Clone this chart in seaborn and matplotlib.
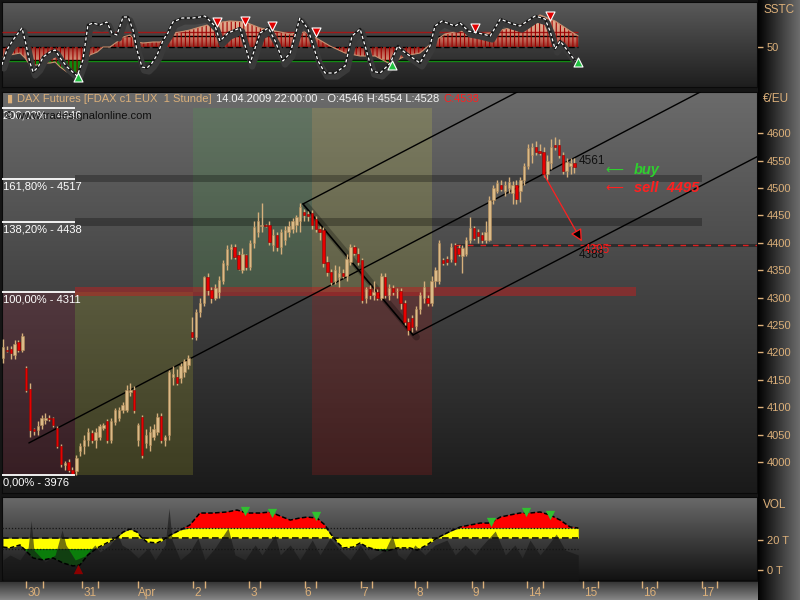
import numpy as np
import matplotlib
matplotlib.use("Agg")
import matplotlib.pyplot as plt
import matplotlib.patheffects as pe
import seaborn as sns
from matplotlib.colors import LinearSegmentedColormap, to_rgb

# hourly FDAX candles, 27.03. - 14.04.2009 (bar index = position on the time axis)
opens = [4190, 4205, 4207, 4195, 4218, 4205, 4172, 4133, 4060, 4058,
         4068, 4076, 4080, 4080, 4062, 4029, 3995, 4000, 3985, 3983,
         4020, 4030, 4040, 4053, 4040, 4046, 4062, 4075, 4040, 4073,
         4080, 4095, 4095, 4128, 4131, 4040, 4082, 4035, 4031, 4045,
         4055, 4084, 4040, 4049, 4155, 4155, 4153, 4165, 4177, 4237,
         4228, 4274, 4290, 4337, 4314, 4300, 4310, 4330, 4360, 4388,
         4392, 4378, 4350, 4378, 4355, 4400, 4420, 4430, 4432, 4432,
         4395, 4414, 4392, 4405, 4420, 4425, 4432, 4440, 4456, 4452,
         4454, 4443, 4425, 4423, 4365, 4347, 4330, 4338, 4345, 4340,
         4365, 4392, 4380, 4368, 4300, 4315, 4305, 4310, 4300, 4337,
         4305, 4318, 4312, 4312, 4290, 4255, 4262, 4248, 4280, 4300,
         4300, 4290, 4330, 4330, 4368, 4370, 4370, 4396, 4390, 4375,
         4380, 4405, 4427, 4420, 4414, 4405, 4405, 4478, 4495, 4505,
         4495, 4500, 4490, 4505, 4495, 4515, 4540, 4560, 4575, 4568,
         4565, 4525, 4545, 4578, 4578, 4560, 4530, 4540, 4546]
highs = [4225, 4212, 4212, 4222, 4222, 4235, 4175, 4145, 4062, 4075,
         4085, 4090, 4085, 4082, 4065, 4032, 4002, 4005, 3990, 4012,
         4035, 4050, 4062, 4058, 4062, 4070, 4072, 4078, 4080, 4098,
         4100, 4110, 4140, 4145, 4138, 4072, 4085, 4060, 4065, 4070,
         4090, 4090, 4050, 4168, 4175, 4170, 4180, 4188, 4195, 4265,
         4280, 4300, 4340, 4345, 4320, 4325, 4340, 4368, 4395, 4398,
         4398, 4385, 4390, 4380, 4405, 4440, 4456, 4473, 4435, 4440,
         4425, 4420, 4425, 4430, 4440, 4445, 4450, 4473, 4462, 4458,
         4460, 4448, 4430, 4428, 4375, 4352, 4360, 4358, 4352, 4380,
         4398, 4396, 4390, 4372, 4320, 4322, 4330, 4315, 4345, 4345,
         4325, 4322, 4318, 4318, 4295, 4262, 4268, 4285, 4310, 4330,
         4305, 4340, 4355, 4405, 4372, 4375, 4400, 4400, 4395, 4395,
         4410, 4447, 4430, 4425, 4420, 4440, 4485, 4505, 4515, 4515,
         4512, 4520, 4512, 4515, 4520, 4545, 4580, 4582, 4585, 4580,
         4575, 4560, 4590, 4593, 4590, 4565, 4555, 4555, 4554]
lows = [4180, 4200, 4188, 4188, 4200, 4200, 4128, 4045, 4050, 4050,
        4060, 4070, 4075, 4064, 4025, 3990, 3985, 3982, 3976, 3976,
        4010, 4015, 4030, 4035, 4025, 4040, 4058, 4035, 4035, 4068,
        4075, 4090, 4092, 4120, 4090, 4030, 4008, 4025, 4020, 4040,
        4050, 4035, 4030, 4040, 4140, 4140, 4145, 4155, 4170, 4225,
        4222, 4265, 4285, 4305, 4290, 4295, 4300, 4325, 4350, 4370,
        4370, 4350, 4345, 4350, 4350, 4390, 4410, 4420, 4428, 4395,
        4385, 4385, 4380, 4395, 4410, 4418, 4420, 4420, 4440, 4440,
        4425, 4420, 4405, 4355, 4340, 4322, 4325, 4320, 4335, 4330,
        4360, 4378, 4360, 4290, 4290, 4298, 4295, 4295, 4295, 4300,
        4295, 4305, 4300, 4280, 4250, 4232, 4238, 4240, 4270, 4290,
        4285, 4285, 4320, 4325, 4360, 4360, 4365, 4360, 4375, 4345,
        4375, 4400, 4405, 4400, 4400, 4400, 4403, 4470, 4490, 4495,
        4485, 4490, 4470, 4470, 4475, 4505, 4535, 4545, 4560, 4560,
        4520, 4515, 4535, 4570, 4555, 4525, 4520, 4525, 4528]
closes = [4210, 4202, 4198, 4215, 4205, 4230, 4131, 4058, 4056, 4066,
          4080, 4080, 4078, 4068, 4029, 3996, 3999, 3985, 3978, 4007,
          4030, 4040, 4055, 4040, 4055, 4066, 4068, 4040, 4075, 4095,
          4095, 4104, 4131, 4131, 4095, 4068, 4013, 4050, 4055, 4060,
          4082, 4040, 4045, 4164, 4160, 4144, 4175, 4185, 4190, 4228,
          4274, 4290, 4337, 4314, 4299, 4318, 4332, 4363, 4388, 4392,
          4374, 4352, 4380, 4355, 4400, 4429, 4440, 4433, 4430, 4401,
          4415, 4392, 4420, 4423, 4430, 4440, 4447, 4465, 4450, 4448,
          4432, 4425, 4420, 4363, 4347, 4328, 4350, 4345, 4340, 4370,
          4392, 4381, 4365, 4296, 4315, 4305, 4310, 4300, 4340, 4305,
          4318, 4310, 4312, 4290, 4255, 4240, 4246, 4280, 4305, 4320,
          4290, 4330, 4350, 4400, 4363, 4365, 4392, 4365, 4380, 4390,
          4405, 4427, 4409, 4412, 4405, 4420, 4478, 4500, 4509, 4498,
          4505, 4510, 4505, 4480, 4515, 4540, 4572, 4575, 4566, 4564,
          4525, 4550, 4575, 4575, 4560, 4530, 4548, 4545, 4538]

# date axis (bar units)
day_labels = ['30', '31', 'Apr', '2', '3', '6', '7', '8', '9', '14', '15', '16', '17']
day_pos = [8.0, 22.5, 37.3, 50.5, 65.0, 79.0, 93.8, 108.0, 122.5, 137.6, 152.1, 167.4, 182.4]
session_ticks = [6.0, 10.4, 20.5, 24.6, 35.0, 49.2, 52.3, 63.7, 66.6, 78.2, 81.1, 92.7,
                 95.6, 106.7, 109.8, 121.5, 124.4, 135.8, 139.9, 150.3, 154.1, 165.5,
                 169.4, 181.1, 185.0]

# fibonacci levels
fib_pct = ['0,00%', '100,00%', '138,20%', '161,80%', '200,00%']
fib_lvl = [3976, 4311, 4438, 4517, 4646]

# SSTC oscillator: fast (white dashed) and slow (filled)
fast_x = [-0.3, 1.0, 2.6, 4.9, 5.7, 7.0, 7.8, 9.1, 10.4, 12.2,
          13.5, 14.8, 16.6, 19.2, 20.7, 22.0, 23.3, 25.1, 26.9, 28.2,
          29.5, 31.1, 32.4, 33.7, 34.7, 36.0, 37.3, 38.6, 39.9, 41.5,
          42.7, 44.0, 46.4, 49.2, 51.0, 52.3, 54.9, 56.2, 58.3, 61.4,
          64.0, 66.6, 68.7, 70.5, 72.5, 74.4, 76.9, 79.0, 81.6, 83.4,
          86.0, 88.6, 90.4, 92.5, 93.8, 95.6, 97.7, 100.3, 102.3, 103.6,
          105.4, 108.0, 110.6, 111.9, 113.7, 117.1, 118.4, 120.5, 123.1, 126.2,
          128.8, 131.3, 133.9, 137.8, 140.4, 141.7, 143.0, 144.3, 145.9, 148.2]
fast_v = [14, 44, 64, 88, 64, 18, 0, 10, 30, 40,
          44, 28, 10, -8, 24, 94, 98, 94, 100, 78,
          74, 110, 110, 84, 44, 10, 8, 18, 34, 64,
          78, 100, 108, 108, 110, 112, 92, 62, 78, 88,
          18, 78, 88, 62, 22, 38, 108, 86, 22, -2,
          -2, 12, 72, 86, 52, 2, -2, 18, 52, 42,
          32, 18, 52, 92, 102, 92, 98, 82, 78, 72,
          106, 98, 92, 112, 106, 82, 46, 62, 46, 22]
slow_x = [0, 1.8, 4.4, 5.7, 7.0, 8.8, 10.4, 12.2, 13.5, 14.8,
          16.6, 18.7, 19.9, 21.2, 22.5, 24.4, 25.9, 27.7, 29.5, 31.1,
          32.9, 34.7, 36.3, 38.9, 40.7, 42.5, 44.0, 45.9, 48.4, 51.0,
          54.9, 58.8, 62.7, 66.6, 70.5, 74.4, 78.2, 81.6, 84.7, 88.6,
          92.5, 96.4, 100.3, 104.1, 108.0, 111.1, 114.5, 118.4, 122.3, 126.2,
          130.1, 133.9, 139.1, 143.0, 146.9, 149.0]
slow_v = [30, 34, 38, 28, 14, 14, 18, 18, 20, 10,
          0, -8, 0, 20, 34, 40, 50, 50, 60, 70,
          74, 60, 58, 60, 60, 68, 78, 80, 84, 90,
          98, 102, 100, 88, 82, 76, 80, 66, 52, 38,
          32, 32, 16, 32, 38, 58, 76, 82, 76, 78,
          86, 94, 114, 102, 82, 72]
sstc_sell_x = [55.4, 62.7, 69.7, 81.1, 122.3, 141.7]
sstc_sell_v = [100, 102, 92, 80, 88, 112]
sstc_buy_x = [19.4, 100.8, 149.0]
sstc_buy_v = [-10, 14, 20]

# volume (thousands) and its average
ma_x = [0, 1.8, 4.4, 5.7, 7.8, 10.4, 13.0, 15.5, 18.1, 19.9,
        22.0, 24.4, 26.9, 29.0, 31.1, 32.9, 34.7, 36.0, 37.3, 39.9,
        41.5, 43.3, 45.9, 48.4, 51.0, 54.4, 58.0, 60.6, 63.2, 66.6,
        69.2, 71.8, 74.4, 76.9, 78.8, 81.3, 83.4, 84.7, 86.5, 88.1,
        90.7, 92.5, 94.3, 96.9, 99.5, 102.1, 105.4, 107.3, 109.8, 112.4,
        115.0, 116.6, 118.4, 121.0, 123.6, 126.2, 128.8, 131.3, 133.9, 136.5,
        139.1, 141.7, 144.3, 146.9, 149.0]
ma_v = [15.3, 14.7, 16.7, 13.3, 8.0, 6.7, 8.0, 4.7, 2.7, 3.3,
        10.0, 14.7, 18.0, 20.7, 25.3, 27.3, 25.3, 21.3, 18.7, 18.0,
        20.0, 23.3, 26.7, 30.0, 38.0, 38.0, 38.7, 40.0, 38.0, 38.0,
        38.7, 36.0, 33.3, 34.7, 35.3, 34.7, 30.0, 24.7, 18.7, 14.7,
        15.3, 18.0, 15.3, 13.3, 12.7, 14.7, 14.7, 13.3, 16.7, 21.3,
        24.7, 26.7, 28.7, 30.0, 31.3, 31.3, 35.3, 36.7, 38.0, 38.0,
        38.7, 36.7, 33.3, 28.7, 28.0]
vol_x = [0, 1.8, 4.4, 6.5, 7.3, 8.0, 10.9, 13.5, 15.3, 16.3,
         18.7, 21.2, 23.8, 25.1, 27.7, 29.8, 30.8, 32.9, 35.0, 37.6,
         39.4, 42.0, 43.0, 43.8, 45.9, 48.4, 50.5, 52.3, 54.9, 58.3,
         60.1, 62.7, 65.3, 67.1, 70.5, 71.8, 74.4, 76.9, 80.1, 82.1,
         84.7, 87.3, 89.9, 92.5, 95.1, 99.0, 100.8, 102.3, 104.1, 106.7,
         109.3, 111.9, 115.0, 117.1, 119.7, 122.3, 123.6, 127.5, 130.1, 132.6,
         134.5, 136.5, 139.1, 141.2, 143.3, 145.6, 149.0]
vol_v = [6.7, 10.0, 6.7, 14.7, 33.0, 13.3, 5.3, 10.0, 26.7, 16.7,
         6.7, 9.3, 16.7, 12.0, 16.7, 23.3, 16.7, 13.3, 8.0, 14.7,
         6.7, 16.7, 41.3, 20.0, 6.7, 12.0, 21.3, 6.7, 14.7, 28.0,
         10.0, 6.7, 16.7, 10.0, 23.3, 10.0, 16.7, 6.7, 20.0, 10.0,
         21.3, 13.3, 6.7, 16.7, 6.7, 13.3, 23.3, 10.0, 6.7, 16.7,
         10.0, 16.7, 20.0, 10.0, 16.7, 10.0, 14.7, 26.0, 10.0, 16.7,
         8.0, 20.0, 10.0, 16.7, 24.0, 13.3, 10.0]
vol_sig_x = [62.7, 69.7, 81.1, 126.4, 135.5, 141.7]
vol_sig_v = [39.3, 38.0, 36.0, 32.0, 38.7, 36.7]
vol_low_x = [19.4]
vol_low_v = [0.7]

TAN = '#dcb07a'
W, H = 800, 600
XLIM = (-0.26, 195.3)
LAST = 149.0

sns.set_style('dark')
plt.rcParams['font.family'] = ['Liberation Sans', 'DejaVu Sans']
plt.rcParams['hatch.linewidth'] = 0.8


def rect(x0, y0, x1, y1):
    return [x0 / W, 1 - y1 / H, (x1 - x0) / W, (y1 - y0) / H]


def shade(ax, top, bottom):
    xl, yl = ax.get_xlim(), ax.get_ylim()
    t = np.linspace(0, 1, 200)[:, None, None]
    img = np.array(to_rgb(top)) * (1 - t) + np.array(to_rgb(bottom)) * t
    ax.imshow(img, extent=(xl[0], xl[1], yl[0], yl[1]), aspect='auto', zorder=0)
    ax.set_xlim(xl)
    ax.set_ylim(yl)


def right_axis(ax, ticks, labels):
    ax.yaxis.tick_right()
    ax.set_yticks(ticks, labels)
    ax.set_xticks([])
    ax.tick_params(axis='y', right=True, left=False, length=4, width=1, color=TAN,
                   labelcolor=TAN, labelsize=8, pad=3)
    ax.grid(False)
    for s in ax.spines.values():
        s.set_color('#0a0a0a')


fig = plt.figure(figsize=(8, 6), dpi=100)
fig.patch.set_facecolor('#151515')

# frame background: dark, right scale column, date strip
bg = fig.add_axes([0, 0, 1, 1])
bg.set_zorder(-10)
canvas = np.empty((H, W, 3))
canvas[:] = to_rgb('#151515')
t = np.linspace(0, 1, W - 758)[None, :, None]
canvas[:, 758:] = np.array(to_rgb('#030303')) * (1 - t) + np.array(to_rgb('#6c6c6c')) * t
s = np.linspace(0, 1, H - 582)[:, None, None]
canvas[582:, :758] = np.array(to_rgb('#383838')) * (1 - s) + np.array(to_rgb('#858585')) * s
bg.imshow(canvas, extent=(0, W, H, 0), aspect='auto')
bg.set_xlim(0, W)
bg.set_ylim(H, 0)
bg.axis('off')

# ---------------- main price panel ----------------
ax = fig.add_axes(rect(2, 92, 757, 493))
ax.set_xlim(XLIM)
ax.set_ylim(3943.4, 4675)
shade(ax, '#6b6b6b', '#1a1a1a')

zones = [(-0.26, 18.65, 3976, 4311, '#7a2035', 0.28),
         (18.65, 49.2, 3976, 4311, '#a0a030', 0.25),
         (49.2, 80.05, 4311, 4646, '#50a050', 0.22),
         (80.05, 111.1, 4311, 4646, '#b8b850', 0.25),
         (80.05, 111.1, 3976, 4311, '#902020', 0.3)]
for x0, x1, lo, hi, col, a in zones:
    ax.fill_between([x0, x1], lo, hi, color=col, alpha=a, lw=0, zorder=1)

bands = [(18.65, 181.1, 4517, 7, 'black', 0.28),
         (18.65, 181.1, 4438, 7.5, 'black', 0.28),
         (18.65, 164.0, 4311, 8, '#c02020', 0.5),
         (117.1, XLIM[1], 4395, 3.5, 'black', 0.4)]
for x0, x1, lvl, hw, col, a in bands:
    ax.fill_between([x0, x1], lvl - hw, lvl + hw, color=col, alpha=a, lw=0, zorder=2)
ax.hlines(4395, 117.1, XLIM[1], color='#e02020', lw=1, linestyles=(0, (4, 5)), zorder=3)

ax.hlines(fib_lvl, XLIM[0], 18.65, color='white', lw=1.3, zorder=6)
for pct, lvl in zip(fib_pct, fib_lvl):
    ax.annotate(f'{pct} - {lvl}', xy=(XLIM[0], lvl), xytext=(1, -2), textcoords='offset points',
                va='top', ha='left', color='white', fontsize=8, zorder=7)

# channel / trend lines
channel = [((6.7, 4034.7), (180.6, 4675)),
           ((77.7, 4470.8), (133.2, 4675)),
           ((106.2, 4231.8), (195.6, 4558))]
for (xa, ya), (xb, yb) in channel:
    ax.plot([xa, xb], [ya, yb], color='black', lw=1, zorder=3)
trend = ((77.7, 4470.8), (106.2, 4231.8))
ax.plot([trend[0][0], trend[1][0]], [trend[0][1], trend[1][1]], color='black', lw=1.2, zorder=3,
        path_effects=[pe.Stroke(linewidth=5, foreground='black', alpha=0.25, offset=(2.5, -1.5)),
                      pe.Normal()])

# candles
o, h, l, c = map(np.array, (opens, highs, lows, closes))
bars = np.arange(len(closes))
up = c >= o
ax.vlines(bars, l, h, color='#d6b07c', lw=1, zorder=4)
ax.bar(bars[up], (c - o)[up], bottom=o[up], width=0.62, color='#dcbb88',
       edgecolor='#b08a58', lw=0.4, zorder=5)
ax.bar(bars[~up], (c - o)[~up], bottom=o[~up], width=0.62, color='#e80000',
       edgecolor='#8a0000', lw=0.4, zorder=5)

# projection arrow and notes
ax.annotate('', xy=(150.3, 4398), xytext=(139.9, 4527),
            arrowprops=dict(arrowstyle='-|>', fc='black', ec='#ff2020', lw=0.9,
                            mutation_scale=18), zorder=8)
ax.text(149.0, 4549, '4561', color='#101010', fontsize=8.5, va='center', zorder=8)
ax.text(150.3, 4387, '4395', color='#ff1a1a', fontsize=8.5, va='center', zorder=8)
ax.text(149.0, 4377, '4388', color='#101010', fontsize=8.5, va='center', zorder=8)
ax.text(156, 4533, '⟵', color='#2fcf2f', fontsize=9, va='center', zorder=8,
        family=['DejaVu Sans'])
ax.text(163.5, 4533, 'buy', color='#2fcf2f', fontsize=10.5, fontstyle='italic',
        fontweight='bold', va='center', zorder=8)
ax.text(156, 4500, '⟵', color='#ff2020', fontsize=9, va='center', zorder=8,
        family=['DejaVu Sans'])
ax.text(163.5, 4500, 'sell  4495', color='#ff2020', fontsize=10.5, fontstyle='italic',
        fontweight='bold', va='center', zorder=8)

right_axis(ax, list(range(4000, 4601, 50)), [str(v) for v in range(4000, 4601, 50)])

# ---------------- SSTC panel ----------------
at = fig.add_axes(rect(2, 2, 757, 87))
at.set_xlim(XLIM)
at.set_ylim(-30, 140)
shade(at, '#5a5a5a', '#1e1e1e')

sstc_levels = [80, 73, 50, 25, 22]
sstc_cols = ['#a01818', 'black', 'black', 'black', '#128a12']
sstc_ls = ['-', '-', (0, (4, 2)), '-', '-']
for lv, col, ls in zip(sstc_levels, sstc_cols, sstc_ls):
    at.hlines(lv, XLIM[0], LAST, color=col, lw=1, linestyles=ls, zorder=3)

sv = np.array(slow_v)
poly = at.fill_between(slow_x, 50, slow_v, facecolor='none', edgecolor='#a00000',
                       hatch='||||', lw=0, zorder=3)
cmap = LinearSegmentedColormap.from_list(
    'sstc', [(0, '#8e2a22'), (0.15, '#b85a4c'), (0.4, '#d6987e'), (1, '#e8c2a2')])
yy = np.linspace(140, -30, 340)
grad = cmap(np.clip(np.abs(yy - 50) / 70, 0, 1))[:, None, :3]
im = at.imshow(grad, extent=(XLIM[0], XLIM[1], -30, 140), aspect='auto', zorder=2)
im.set_clip_path(poly.get_paths()[0], transform=at.transData)
at.fill_between(slow_x, 22, slow_v, where=sv < 22, interpolate=True, facecolor='#0f8a0f',
                edgecolor='#7a0000', hatch='||||', lw=0, zorder=4)
sns.lineplot(x=slow_x, y=slow_v, ax=at, color='#c89070', lw=0.8, zorder=5)

sns.lineplot(x=fast_x, y=fast_v, ax=at, color='#181818', lw=1.8, zorder=6,
             path_effects=[pe.Stroke(linewidth=4.5, foreground='#3a3a3a', offset=(1.5, -2.5)),
                           pe.Normal()])
sns.lineplot(x=fast_x, y=fast_v, ax=at, color='white', lw=0.9,
             linestyle=(0, (2.5, 2)), zorder=7)
at.scatter(sstc_sell_x, sstc_sell_v, marker='v', s=42, c='#e00000', edgecolors='white',
           linewidths=0.8, zorder=8)
at.scatter(sstc_buy_x, sstc_buy_v, marker='^', s=42, c='#20c040', edgecolors='white',
           linewidths=0.8, zorder=8)
at.set_xlim(XLIM)
at.set_ylim(-30, 140)
right_axis(at, [50], ['50'])

# ---------------- volume panel ----------------
av = fig.add_axes(rect(2, 497, 757, 580))
av.set_xlim(XLIM)
av.set_ylim(-6.7, 48.7)
shade(av, '#6a6a6a', '#121212')
mv = np.array(ma_v)
av.fill_between(ma_x, 28, ma_v, where=mv > 28, interpolate=True, color='#ff0000', lw=0, zorder=2)
av.fill_between(ma_x, 21.3, np.clip(mv, 14, 28), color='#ffff00', lw=0, zorder=2)
av.fill_between(ma_x, 14, ma_v, where=mv < 14, interpolate=True, color='#0b7d0b', lw=0, zorder=2)
av.fill_between(vol_x, -7, vol_v, color='#161616', alpha=0.6, lw=0, zorder=3)
av.hlines([28, 14], XLIM[0], LAST, color='#151515', lw=0.9, linestyles=(0, (1, 1.5)), zorder=4)
av.hlines(21.3, XLIM[0], LAST, color='#101010', lw=1.2, linestyles=(0, (4, 2)), zorder=4)
sns.lineplot(x=ma_x, y=ma_v, ax=av, color='black', lw=1.1, linestyle=(0, (3, 1.5)), zorder=5)
av.scatter(vol_sig_x, vol_sig_v, marker='v', s=45, c='#30c030', linewidths=0, zorder=6)
av.scatter(vol_low_x, vol_low_v, marker='^', s=45, c='#8a0000', linewidths=0, zorder=6)
av.set_xlim(XLIM)
av.set_ylim(-6.7, 48.7)
right_axis(av, [0, 20], ['0 T', '20 T'])

# ---------------- date strip ----------------
ad = fig.add_axes(rect(2, 581, 757, 600))
ad.set_xlim(XLIM)
ad.set_ylim(0, 1)
ad.patch.set_alpha(0)
for sp in ad.spines.values():
    sp.set_visible(False)
ad.set_yticks([])
ad.set_xticks(day_pos, day_labels)
ad.set_xticks(session_ticks, minor=True)
ad.tick_params(axis='x', which='major', bottom=True, length=0, pad=-9.5, labelsize=8.5,
               labelcolor=TAN)
ad.tick_params(axis='x', which='minor', bottom=False, top=True, direction='in', length=5,
               width=1, color=TAN)

# ---------------- captions ----------------
fig.text(763 / W, 1 - 10 / H, 'SSTC', color=TAN, fontsize=8.5, va='center')
fig.text(763 / W, 1 - 99 / H, '€/EU', color=TAN, fontsize=8.5, va='center')
fig.text(763 / W, 1 - 505 / H, 'VOL', color=TAN, fontsize=8.5, va='center')

header = [('▮', TAN), ('DAX Futures [FDAX c1 EUX  1 Stunde]', TAN),
          ('14.04.2009 22:00:00 - O:4546 H:4554 L:4528', '#f2f2f2'), ('C:4538', '#ff2020')]
renderer = fig.canvas.get_renderer()
x = 7
for txt, col in header:
    tt = fig.text(x / W, 1 - 99 / H, txt, color=col, fontsize=8, va='center')
    x = tt.get_window_extent(renderer).x1 + 4
fig.text(5 / W, 1 - 116 / H, '© www.tradesignalonline.com', color='#101010', fontsize=8,
         va='center')

fig.savefig('out.png', dpi=100, facecolor=fig.get_facecolor())
